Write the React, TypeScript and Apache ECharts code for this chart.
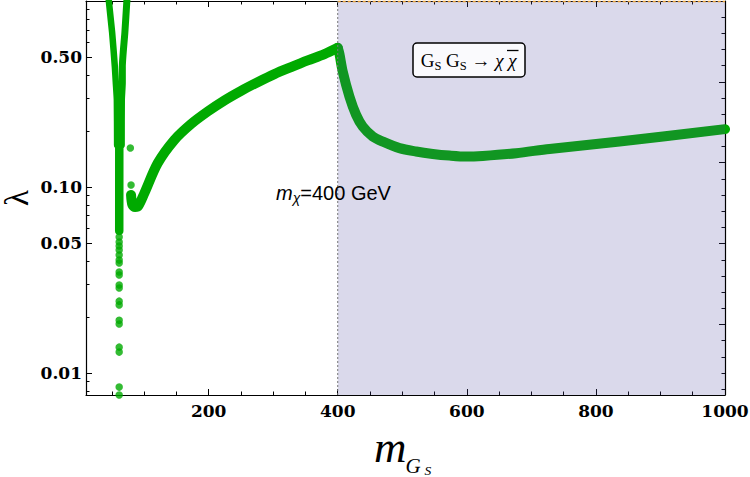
import React, { useEffect, useRef } from "react";
import * as echarts from "echarts";

// ---- axis ticks ----
const xMajorTicks = [200, 400, 600, 800, 1000];
const xMinorTicks = [50, 100, 150, 250, 300, 350, 450, 500, 550, 650, 700, 750, 850, 900, 950];
const yMajorTicks = [0.01, 0.05, 0.1, 0.5];
const yMinorTicks = [0.008, 0.009, 0.02, 0.03, 0.04, 0.06, 0.07, 0.08, 0.09, 0.2, 0.3, 0.4, 0.6, 0.7, 0.8, 0.9];
const rightMajorTicks = [5, 10, 15, 20, 25];
const rightMinorTicks = [1, 2, 3, 4, 6, 7, 8, 9, 11, 12, 13, 14, 16, 17, 18, 19, 21, 22, 23, 24];

const X_MIN = 10;
const X_MAX = 1000;
const Y_MIN = 0.0076;
const Y_MAX = 1.0;
const mChi = 400;

// ---- series values [m_GS, lambda] ----
const branchLeft = [
  [44.6, 1.12], [45.4, 1.0], [50.5, 0.676], [54.7, 0.443], [56.2, 0.363], [57.8, 0.294], [58.2, 0.168],
];
const branchRight = [
  [74.1, 1.12], [73.3, 1.0], [70.2, 0.676], [66.3, 0.443], [66.3, 0.363], [65.0, 0.294], [64.8, 0.168],
];
const resonanceColumn = [
  [61.6, 0.313], [61.5, 0.058],
];
const resonanceDots = [
  [61.4, 0.0538], [61.4, 0.0506], [61.4, 0.0481], [61.4, 0.0458], [61.4, 0.043], [61.4, 0.0404],
  [61.4, 0.039], [61.4, 0.0349], [61.4, 0.0336], [61.4, 0.0297], [61.4, 0.0286], [61.4, 0.0243],
  [61.4, 0.0232], [61.4, 0.0192], [61.4, 0.0183], [61.4, 0.01375], [61.4, 0.01293], [61.4, 0.00838],
  [61.4, 0.0076],
];
const hookDots = [
  [78.7, 0.162], [79.8, 0.1025],
];
const risingBelowThreshold = [
  [79.8, 0.0906], [80.5, 0.085], [82, 0.08], [86, 0.078], [91, 0.079], [100.4, 0.0925], [121, 0.134],
  [146.9, 0.179], [172.8, 0.218], [198.5, 0.2545], [224.4, 0.292], [250.3, 0.329], [276, 0.366],
  [301.9, 0.4045], [327.8, 0.441], [353.5, 0.479], [379.4, 0.518], [400, 0.56],
];
const fallingAboveThreshold = [
  [400, 0.56], [402.6, 0.52], [407.7, 0.418], [418.1, 0.3065], [428.5, 0.244], [438.7, 0.2112],
  [454.2, 0.1866], [469.7, 0.1753], [495.6, 0.1616], [521.5, 0.155], [547.2, 0.1505], [573.1, 0.1474],
  [599, 0.1456], [624.7, 0.1468], [676.5, 0.1519], [728.1, 0.1601], [836.6, 0.1753], [1000, 0.2045],
];

const GREEN = "#00aa00";
const tickFont = { fontFamily: "DejaVu Serif", fontWeight: "bold" as const, fontSize: 17, color: "#000" };

function lineSeries(data: number[][], width: number, smooth = 0.3) {
  return {
    type: "line",
    data,
    xAxisIndex: 0,
    yAxisIndex: 0,
    symbol: "none",
    showSymbol: false,
    smooth,
    silent: true,
    z: 2,
    lineStyle: { color: GREEN, width, cap: "round", join: "round" },
  };
}

function dotSeries(data: number[][]) {
  return {
    type: "scatter",
    data,
    xAxisIndex: 0,
    yAxisIndex: 0,
    symbol: "circle",
    symbolSize: 7.5,
    silent: true,
    z: 2,
    itemStyle: { color: GREEN },
  };
}

function xAxisDef(position: "top" | "bottom", ticks: number[], len: number, labels: boolean, line: boolean) {
  return {
    type: "value",
    position,
    min: X_MIN,
    max: X_MAX,
    splitLine: { show: false },
    axisLine: { show: line, onZero: false, lineStyle: { color: "#000", width: 1.2 } },
    axisTick: { show: true, inside: true, length: len, customValues: ticks, lineStyle: { color: "#000", width: 1 } },
    axisLabel: labels
      ? { show: true, customValues: ticks, margin: 7, formatter: (v: number) => String(Math.round(v)), ...tickFont }
      : { show: false },
  };
}

const L0 = Math.log10(Y_MIN);
const L1 = Math.log10(Y_MAX);

function yLogTickAxis(ticks: number[], len: number, labels: boolean) {
  return {
    type: "value",
    position: "left",
    min: L0,
    max: L1,
    splitLine: { show: false },
    axisLine: { show: false },
    axisTick: {
      show: true, inside: true, length: len,
      customValues: ticks.map((t) => Math.log10(t)),
      lineStyle: { color: "#000", width: 1 },
    },
    axisLabel: labels
      ? {
          show: true,
          customValues: ticks.map((t) => Math.log10(t)),
          margin: 4,
          formatter: (v: number) => Math.pow(10, v).toFixed(2),
          ...tickFont,
        }
      : { show: false },
  };
}

function yRightAxis(ticks: number[], len: number, line: boolean) {
  return {
    type: "value",
    position: "right",
    min: 0.64,
    max: 25,
    splitLine: { show: false },
    axisLine: { show: line, onZero: false, lineStyle: { color: "#000", width: 1.2 } },
    axisTick: { show: true, inside: true, length: len, customValues: ticks, lineStyle: { color: "#000", width: 1 } },
    axisLabel: { show: false },
  };
}

export default function App() {
  const ref = useRef<HTMLDivElement>(null);

  useEffect(() => {
    if (!ref.current) return;
    const chart = echarts.init(ref.current, undefined, { renderer: "svg" });

    const option: any = {
      animation: false,
      backgroundColor: "#ffffff",
      grid: { left: 86, right: 25, top: 1, bottom: 82, containLabel: false, outerBoundsMode: "none" },
      xAxis: [
        xAxisDef("bottom", xMajorTicks, 6, true, true),
        xAxisDef("bottom", xMinorTicks, 3.5, false, false),
        xAxisDef("top", xMajorTicks, 6, false, true),
        xAxisDef("top", xMinorTicks, 3.5, false, false),
      ],
      yAxis: [
        {
          type: "log",
          logBase: 10,
          position: "left",
          min: Y_MIN,
          max: Y_MAX,
          splitLine: { show: false },
          axisLine: { show: true, onZero: false, lineStyle: { color: "#000", width: 1.2 } },
          axisTick: { show: false },
          axisLabel: { show: false },
        },
        yLogTickAxis(yMajorTicks, 6, true),
        yLogTickAxis(yMinorTicks, 3.5, false),
        yRightAxis(rightMajorTicks, 6, true),
        yRightAxis(rightMinorTicks, 3.5, false),
      ],
      series: [
        lineSeries(branchLeft, 6.5, 0.2),
        lineSeries(branchRight, 7, 0.2),
        lineSeries(resonanceColumn, 8.5, 0),
        dotSeries(resonanceDots),
        dotSeries(hookDots),
        lineSeries(risingBelowThreshold, 10, 0.3),
        lineSeries(fallingAboveThreshold, 10, 0.3),
        {
          type: "custom",
          xAxisIndex: 0,
          yAxisIndex: 0,
          silent: true,
          z: 3,
          data: [[mChi, 0.1]],
          renderItem: (params: any, api: any) => {
            const cs = params.coordSys;
            const x0 = api.coord([api.value(0), 0.1])[0];
            const x1 = cs.x + cs.width;
            const top = cs.y;
            const bottom = cs.y + cs.height;
            return {
              type: "group",
              children: [
                {
                  type: "rect",
                  shape: { x: x0, y: top, width: x1 - x0, height: bottom - top },
                  style: { fill: "rgba(79,74,160,0.21)" },
                },
                {
                  type: "line",
                  shape: { x1: x0, y1: top + 0.5, x2: x1, y2: top + 0.5 },
                  style: { stroke: "#e8a33a", lineWidth: 1.4, lineDash: [3, 2] },
                },
                {
                  type: "line",
                  shape: { x1: x0, y1: top, x2: x0, y2: bottom },
                  style: { stroke: "#777", lineWidth: 1, lineDash: [2, 2] },
                },
              ],
            };
          },
        },
      ],
      graphic: [
        {
          type: "rect",
          z: 100,
          shape: { x: 413, y: 43, width: 112, height: 34, r: 4 },
          style: { fill: "#fafafd", stroke: "#000", lineWidth: 1.5 },
        },
        {
          type: "text",
          z: 101,
          x: 468.7,
          y: 60.3,
          style: {
            text: "{n|G}{s|S}{n| G}{s|S}{n| → }{i|χ}{n| }{i|χ}",
            align: "center",
            verticalAlign: "middle",
            rich: {
              n: { fontFamily: "Liberation Serif", fontSize: 19, lineHeight: 24, fill: "#000" },
              s: { fontFamily: "Liberation Serif", fontSize: 12.5, lineHeight: 15, verticalAlign: "bottom", fill: "#000" },
              i: { fontFamily: "Liberation Serif", fontStyle: "italic", fontSize: 19, lineHeight: 24, fill: "#000" },
            },
          },
        },
        {
          type: "line",
          z: 101,
          shape: { x1: 507, y1: 50.5, x2: 518.5, y2: 50.5 },
          style: { stroke: "#000", lineWidth: 1.3 },
        },
        {
          type: "text",
          z: 101,
          x: 276,
          y: 193,
          style: {
            text: `{m|m}{c|χ}{t|=${mChi} GeV}`,
            align: "left",
            verticalAlign: "middle",
            rich: {
              m: { fontFamily: "Liberation Sans", fontStyle: "italic", fontSize: 20, lineHeight: 24, fill: "#000" },
              c: { fontFamily: "Liberation Sans", fontStyle: "italic", fontSize: 14, lineHeight: 14, verticalAlign: "bottom", fill: "#000" },
              t: { fontFamily: "Liberation Sans", fontSize: 20, lineHeight: 24, fill: "#000" },
            },
          },
        },
        {
          type: "text",
          z: 101,
          x: 17,
          y: 198,
          rotation: Math.PI / 2,
          style: { text: "λ", fontFamily: "Liberation Serif", fontSize: 33, align: "center", verticalAlign: "middle", fill: "#000" },
        },
        {
          type: "text",
          z: 101,
          x: 374,
          y: 446.7,
          style: { text: "m", fontFamily: "Liberation Serif", fontStyle: "italic", fontSize: 45, align: "left", verticalAlign: "middle", fill: "#000" },
        },
        {
          type: "text",
          z: 101,
          x: 405.5,
          y: 466.3,
          style: { text: "G", fontFamily: "Liberation Serif", fontStyle: "italic", fontSize: 21, align: "left", verticalAlign: "middle", fill: "#000" },
        },
        {
          type: "text",
          z: 101,
          x: 424.5,
          y: 470.6,
          style: { text: "S", fontFamily: "Liberation Serif", fontStyle: "italic", fontSize: 13.5, align: "left", verticalAlign: "middle", fill: "#000" },
        },
      ],
    };

    chart.setOption(option);
    return () => chart.dispose();
  }, []);

  return (
    <div
      ref={ref}
      style={{ position: "fixed", left: 0, top: 0, width: 750, height: 477, background: "#fff" }}
    />
  );
}
